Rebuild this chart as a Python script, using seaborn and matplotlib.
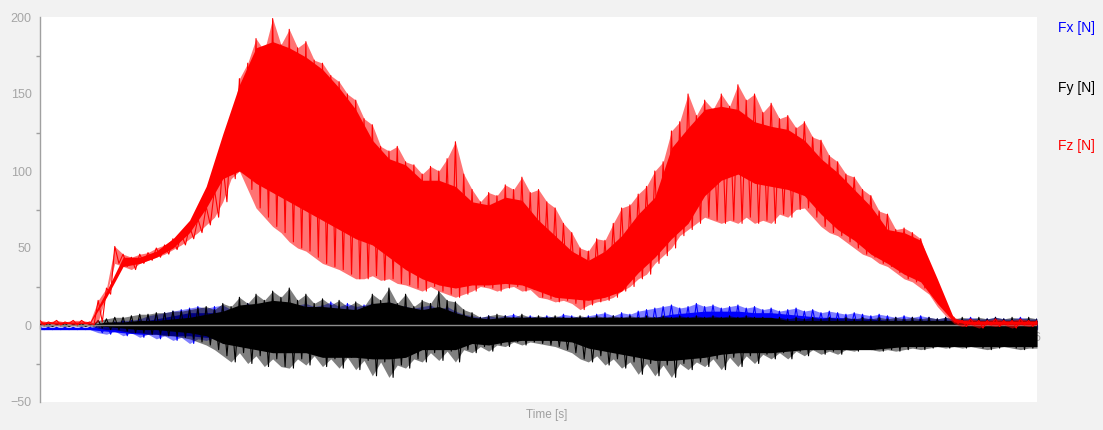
import matplotlib
matplotlib.use("Agg")
import matplotlib.pyplot as plt
import seaborn as sns
import numpy as np

# sampling of the values
spike_step = 0.05   # s between peak/trough pairs (outer, spiky range)
body_step = 0.1     # s between edge values of the dense band

# --- Fz (red) ---
fz_peaks = [
    3, 2, 3, 2, 3, 3, 2, 16, 24, 51,
    46, 44, 46, 47, 50, 52, 56, 59, 64, 69,
    77, 88, 104, 128, 160, 170, 186, 178, 199, 182,
    192, 180, 184, 172, 170, 162, 158, 150, 146, 134,
    130, 116, 113, 116, 106, 104, 98, 103, 100, 108,
    119, 98, 88, 80, 86, 84, 91, 88, 96, 86,
    88, 80, 76, 66, 60, 50, 48, 56, 55, 66,
    76, 78, 85, 90, 100, 106, 126, 132, 150, 136,
    146, 140, 150, 142, 156, 146, 150, 138, 144, 134,
    136, 128, 132, 122, 120, 110, 106, 98, 96, 88,
    84, 74, 72, 62, 63, 60, 56, 40, 26, 12,
    5, 3, 4, 3, 3, 4, 3, 3, 4, 3,
    3,
]
fz_troughs = [
    0, 1, 0, 1, 0, 1, 0, 2, 20, 40,
    38, 36, 40, 42, 44, 46, 49, 52, 56, 60,
    65, 70, 80, 95, 100, 88, 76, 70, 64, 60,
    54, 50, 48, 44, 40, 38, 36, 33, 30, 30,
    32, 29, 30, 27, 26, 24, 22, 25, 22, 20,
    18, 20, 22, 25, 24, 22, 24, 25, 22, 23,
    18, 17, 15, 16, 14, 10, 13, 15, 16, 18,
    22, 25, 30, 33, 40, 45, 50, 58, 62, 66,
    70, 68, 66, 68, 66, 70, 66, 68, 66, 72,
    70, 75, 76, 70, 64, 60, 58, 54, 50, 46,
    44, 40, 38, 34, 30, 28, 24, 20, 12, 6,
    1, -1, 0, -2, 0, -1, 0, -2, 0, -1,
    0,
]
fz_body_hi = [
    2, 2, 2, 2, 22, 44, 44, 48, 56, 68,
    90, 124, 156, 180, 184, 180, 174, 166, 154, 140,
    120, 108, 104, 94, 94, 90, 80, 78, 83, 81,
    68, 58, 48, 42, 48, 58, 72, 83, 115, 128,
    140, 142, 140, 132, 129, 127, 120, 108, 99, 88,
    77, 62, 60, 55, 30, 4, 2.5, 2.5, 2.5, 2.5,
    2.5,
]
fz_body_lo = [
    1, 1, 1, 1, 18, 38, 40, 44, 50, 60,
    76, 95, 100, 92, 86, 80, 74, 68, 62, 56,
    52, 44, 36, 30, 26, 24, 26, 26, 27, 26,
    22, 18, 17, 16, 18, 22, 34, 44, 56, 66,
    84, 94, 98, 92, 90, 88, 84, 72, 62, 55,
    46, 40, 33, 28, 14, 2, 0.5, 0.5, 0.5, 0.5,
    0.5,
]

# --- Fy (black) ---
fy_peaks = [
    0.5, 1, 0.5, 1, 0.5, 1, 0.5, 3, 4, 5,
    5, 6, 7, 7, 8, 8, 9, 9, 10, 11,
    12, 10, 14, 12, 18, 14, 20, 16, 22, 18,
    24, 16, 20, 14, 17, 13, 16, 12, 15, 12,
    20, 16, 24, 14, 20, 12, 16, 14, 22, 16,
    15, 10, 8, 5, 6, 7, 6, 5, 7, 5,
    6, 5, 6, 5, 5, 6, 5, 6, 5, 6,
    5, 6, 5, 6, 5, 6, 5, 6, 5, 6,
    5, 6, 5, 6, 5, 6, 5, 5, 4, 5,
    4, 5, 4, 5, 4, 5, 4, 5, 4, 5,
    4, 5, 4, 5, 4, 5, 4, 5, 4, 5,
    4, 5, 4, 5, 4, 5, 4, 5, 4, 5,
    4,
]
fy_troughs = [
    -0.5, -1, -0.5, -1, -0.5, -1, -0.5, -2, -3, -3,
    -4, -5, -5, -6, -6, -7, -7, -8, -9, -11,
    -13, -16, -20, -24, -18, -25, -20, -27, -22, -27,
    -28, -22, -26, -20, -27, -22, -28, -21, -29, -23,
    -33, -24, -34, -26, -28, -22, -24, -18, -23, -17,
    -24, -16, -18, -14, -17, -13, -14, -11, -13, -11,
    -12, -13, -14, -16, -18, -22, -24, -20, -26, -22,
    -28, -24, -32, -25, -33, -26, -34, -25, -29, -24,
    -27, -22, -29, -21, -27, -20, -25, -19, -22, -18,
    -22, -17, -20, -16, -19, -17, -19, -16, -17, -15,
    -16, -17, -16, -17, -16, -15, -16, -15, -14, -15,
    -14, -15, -14, -15, -16, -15, -14, -15, -16, -15,
    -15,
]
fy_body_hi = [
    0, 0, 0, 0, 2, 2, 3, 3, 4, 5,
    7, 9, 13, 14, 16, 15, 12, 12, 11, 10,
    14, 15, 12, 10, 12, 8, 5, 4, 5, 5,
    5, 5, 5, 5, 5, 5, 5, 5, 5, 5,
    5, 5, 5, 5, 5, 3, 3, 3, 3, 3,
    3, 3, 3, 3, 3, 3, 3, 3, 3, 3,
    3,
]
fy_body_lo = [
    0, 0, 0, 0, -1, -2, -3, -3, -4, -5,
    -7, -12, -14, -16, -18, -18, -18, -21, -21, -21,
    -22, -22, -21, -16, -16, -16, -12, -13, -11, -10,
    -10, -10, -11, -15, -17, -19, -21, -23, -23, -22,
    -21, -19, -18, -18, -18, -17, -16, -16, -16, -16,
    -16, -15, -14, -14, -14, -14, -14, -14, -14, -14,
    -14,
]

# --- Fx (blue) ---
fx_peaks = [
    -1.5, -1.5, -1.5, -1.5, -1.5, -1.5, -1.5, 0, 1, 2,
    3, 3, 4, 6, 7, 8, 9, 10, 11, 12,
    11, 12, 13, 10, 12, 14, 12, 13, 12, 14,
    11, 13, 14, 12, 13, 15, 12, 14, 12, 13,
    14, 12, 15, 13, 12, 11, 12, 13, 10, 12,
    9, 7, 6, 5, 6, 5, 6, 7, 5, 6,
    5, 6, 5, 7, 6, 5, 6, 7, 8, 6,
    8, 7, 9, 10, 11, 12, 13, 11, 12, 14,
    12, 13, 11, 12, 13, 11, 12, 10, 11, 9,
    10, 11, 9, 10, 8, 9, 8, 7, 8, 7,
    6, 7, 6, 5, 6, 5, 6, 5, 4, 5,
    4, 4, 5, 4, 4, 5, 4, 4, 5, 4,
    4,
]
fx_troughs = [
    -3, -3, -3, -3, -3, -3, -3, -5, -6, -4,
    -7, -5, -8, -6, -9, -7, -10, -8, -12, -9,
    -10, -8, -12, -10, -14, -12, -15, -13, -16, -14,
    -17, -15, -16, -14, -18, -15, -17, -16, -19, -17,
    -20, -18, -19, -17, -16, -15, -14, -13, -12, -11,
    -10, -9, -8, -7, -8, -6, -7, -8, -6, -7,
    -6, -8, -7, -6, -8, -9, -10, -8, -9, -10,
    -8, -9, -7, -6, -5, -4, -5, -4, -6, -4,
    -5, -4, -6, -4, -5, -3, -6, -4, -5, -3,
    -6, -4, -5, -3, -4, -5, -3, -4, -3, -5,
    -3, -4, -3, -4, -3, -4, -3, -4, -3, -4,
    -3, -4, -3, -4, -3, -4, -3, -4, -3, -4,
    -3,
]
fx_body_hi = [
    -1.5, -1.5, -1.5, -1.5, -1, 1, 2, 4, 6, 8,
    8, 8, 8, 9, 9, 9, 9, 8, 8, 8,
    9, 9, 9, 9, 8, 6, 4, 3, 3, 3,
    3, 3, 3, 3, 3, 3, 4, 5, 7, 8,
    9, 9, 9, 8, 8, 7, 6, 5, 5, 4,
    4, 3, 3, 3, 3, 3, 3, 3, 3, 3,
    3,
]
fx_body_lo = [
    -3, -3, -3, -3, -4, -5, -6, -6, -7, -7,
    -8, -8, -9, -10, -10, -11, -11, -11, -12, -12,
    -12, -12, -11, -10, -9, -8, -7, -6, -6, -6,
    -6, -6, -7, -7, -8, -7, -6, -5, -4, -3,
    -3, -3, -3, -3, -3, -3, -3, -3, -3, -3,
    -3, -3, -3, -3, -3, -3, -3, -3, -3, -3,
    -3,
]

series_names = ["Fx [N]", "Fy [N]", "Fz [N]"]
series_colors = ["#0000ff", "#000000", "#ff0000"]

y_ticks = [-50, 0, 50, 100, 150, 200]
x_tick_labels = ["6"]


def zigzag(peaks, troughs):
    t = np.arange(len(peaks)) * spike_step
    x = np.column_stack([t, t + spike_step / 2]).ravel()
    y = np.column_stack([peaks, troughs]).ravel()
    return x, y


sns.set_style("white")
plt.rcParams["font.family"] = ["Liberation Sans", "DejaVu Sans"]

fig = plt.figure(figsize=(11.03, 4.30), dpi=100, facecolor="#f2f2f2")
ax = fig.add_axes([40 / 1103, 1 - 402 / 430, 997 / 1103, 385 / 430])
ax.set_facecolor("white")

t_body = np.arange(len(fz_body_hi)) * body_step
t_spike = np.arange(len(fz_peaks)) * spike_step
data = [
    (fx_peaks, fx_troughs, fx_body_hi, fx_body_lo),
    (fy_peaks, fy_troughs, fy_body_hi, fy_body_lo),
    (fz_peaks, fz_troughs, fz_body_hi, fz_body_lo),
]
fringe_alpha = [0.5, 0.5, 0.55]
for k, (pk, tr, hi, lo) in enumerate(data):
    z = 1 + k * 2 if k < 2 else 6
    col = series_colors[k]
    # outer, spiky range: light fill plus the oscillating trace
    ax.fill_between(t_spike, tr, pk, color=col, alpha=fringe_alpha[k], lw=0, zorder=z)
    ax.fill_between(t_body, lo, hi, color=col, lw=0, zorder=z + 0.2)
    xz, yz = zigzag(pk, tr)
    sns.lineplot(x=xz, y=yz, sort=False, estimator=None, color=col,
                 linewidth=0.8, ax=ax, zorder=z + 0.4)

# zero line over the black band
ax.axhline(0, color="#8c8c8c", lw=1.0, zorder=5)

ax.set_xlim(0, 6.0)
ax.set_ylim(-50, 200)
ax.set_yticks(y_ticks)
ax.set_yticks(np.arange(-50, 201, 25), minor=True)
ax.set_xticks([6.0])
ax.set_xticklabels(x_tick_labels)
ax.set_xticks(np.arange(0, 6.01, 0.3), minor=True)
ax.set_axisbelow(True)

for s in ["top", "right", "bottom"]:
    ax.spines[s].set_visible(False)
ax.spines["left"].set_color("#a0a0a0")
ax.spines["left"].set_linewidth(1)
ax.spines["bottom"].set_position(("data", 0))

ax.tick_params(axis="y", which="major", direction="out", length=4, width=1,
               color="#a0a0a0", labelcolor="#a6a6a6", labelsize=9, pad=2)
ax.tick_params(axis="y", which="minor", direction="out", length=3, width=1,
               color="#a0a0a0", left=True)
ax.tick_params(axis="x", which="both", direction="out", length=3, width=1,
               color="#a0a0a0", labelcolor="#a6a6a6", labelsize=9, pad=2,
               bottom=True)
ax.set_xlabel("")
ax.set_ylabel("")

fig.text(547 / 1103, 1 - 415 / 430, "Time [s]", color="#a0a0a0", fontsize=8.5,
         ha="center", va="center")

for name, col, ypix in zip(series_names, series_colors, [28, 88, 146]):
    fig.text(1058 / 1103, 1 - ypix / 430, name, color=col, fontsize=10,
             ha="left", va="center")

fig.savefig("out.png", dpi=100, facecolor=fig.get_facecolor())
